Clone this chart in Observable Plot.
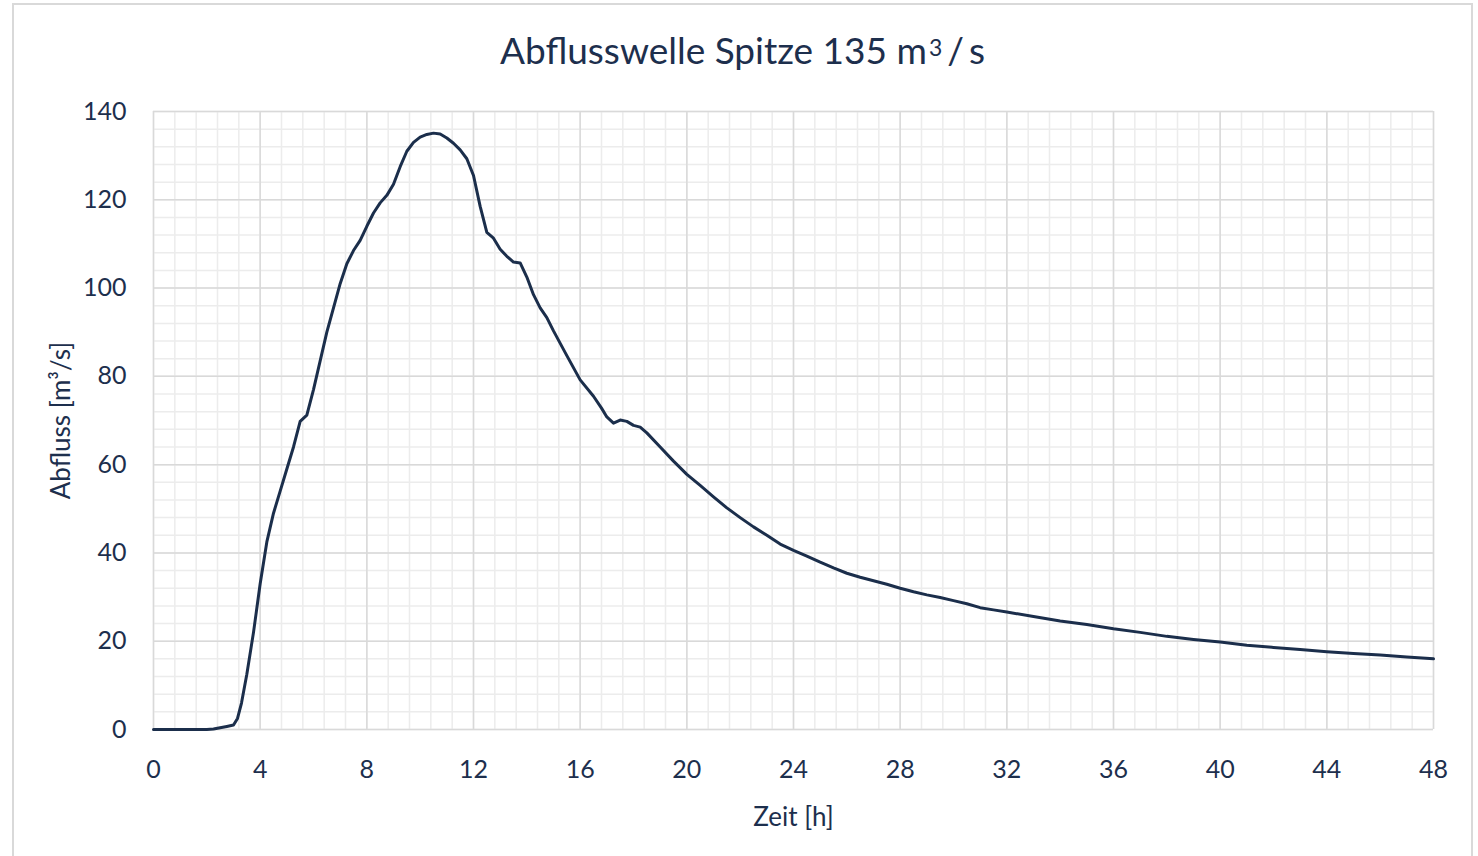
<!DOCTYPE html>
<html>
<head>
<meta charset="utf-8">
<script src="https://cdn.jsdelivr.net/npm/d3@7"></script>
<script src="https://cdn.jsdelivr.net/npm/@observablehq/plot@0.6"></script>
<style>
  body { margin: 0; background: #fff; font-family: Lato, "Open Sans", sans-serif; }
  #wrap { position: relative; width: 1478px; height: 856px; overflow: hidden; background: #fff; }
  #frame { position: absolute; left: 12px; top: 3px; width: 1461px; height: 900px; border: 2px solid #d9d9d9; box-sizing: border-box; }
  #title { position: absolute; left: 12px; width: 1461px; top: 27px; text-align: center; font-size: 37px; line-height: 46px; color: #1d2f4d; }
  #title sup { font-size: 0.62em; position: relative; top: -0.12em; vertical-align: top; margin: 0 2px 0 2px; }
  #title .sl { margin: 0 5px 0 3px; }
  #chart { position: absolute; left: 0; top: 90px; }
</style>
</head>
<body>
<div id="wrap">
  <div id="frame"></div>
  <div id="title">Abflusswelle Spitze 135 m<sup>3</sup><span class="sl">/</span>s</div>
  <div id="chart"></div>
</div>
<script>
// Time in hours
const timeH = [0, 0.5, 1, 1.5, 2, 2.25, 2.5, 2.75, 3.0, 3.15, 3.3, 3.5, 3.75, 4.0, 4.25, 4.5, 4.75, 5.0, 5.25, 5.5, 5.75,
  6.0, 6.25, 6.5, 6.75, 7.0, 7.25, 7.5, 7.75, 8.0, 8.25, 8.5, 8.75, 9.0, 9.25, 9.5, 9.75, 10.0, 10.25, 10.5, 10.75,
  11.0, 11.25, 11.5, 11.75, 12.0, 12.25, 12.5, 12.75, 13.0, 13.25, 13.5, 13.75, 14.0, 14.25, 14.5, 14.75, 15.0, 15.5,
  16.0, 16.5, 16.8, 17.0, 17.25, 17.5, 17.75, 18.0, 18.25, 18.5, 19.0, 19.5, 20.0, 20.5, 21.0, 21.5, 22.0, 22.5, 23.0,
  23.5, 24.0, 24.5, 25.0, 25.5, 26.0, 26.5, 27.0, 27.5, 28.0, 28.5, 29.0, 29.5, 30.0, 30.5, 31.0, 31.5, 32.0, 33.0,
  34.0, 35.0, 36.0, 37.0, 38.0, 39.0, 40.0, 41.0, 42.0, 43.0, 44.0, 45.0, 46.0, 47.0, 48.0];
// Discharge in m³/s
const flow = [0, 0, 0, 0, 0, 0.1, 0.4, 0.7, 1.0, 2.5, 6, 12.5, 22, 33, 42.5, 49, 54, 59, 64, 69.8, 71.2,
  77, 83.5, 90, 95.5, 101, 105.5, 108.5, 110.8, 114, 117, 119.3, 121, 123.5, 127.5, 131, 133, 134.2, 134.8, 135.1, 134.9,
  134.0, 132.8, 131.3, 129.3, 125.5, 118.5, 112.6, 111.3, 108.8, 107.2, 105.9, 105.7, 102.5, 98.5, 95.5, 93.3, 90.3, 84.7,
  79.2, 75.5, 72.8, 70.8, 69.4, 70.1, 69.8, 68.9, 68.5, 67.2, 64, 60.8, 57.8, 55.3, 52.7, 50.2, 48.0, 45.9, 44.0,
  42.0, 40.6, 39.3, 37.9, 36.6, 35.4, 34.5, 33.7, 32.9, 32.0, 31.2, 30.5, 29.9, 29.2, 28.5, 27.6, 27.1, 26.6, 25.6,
  24.6, 23.8, 22.8, 22.0, 21.1, 20.4, 19.8, 19.1, 18.6, 18.1, 17.6, 17.2, 16.9, 16.4, 16.0];

const xTicks = [0, 4, 8, 12, 16, 20, 24, 28, 32, 36, 40, 44, 48];
const yTicks = [0, 20, 40, 60, 80, 100, 120, 140];
const xMinor = d3.range(0, 61).map(i => +(i * 0.8).toFixed(2));
const yMinor = d3.range(0, 36).map(i => i * 4);

const data = timeH.map((t, i) => ({t, q: flow[i]}));
const ink = "#1d2f4d";

const chart = Plot.plot({
  width: 1478,
  height: 766,
  marginLeft: 153,
  marginRight: 45,
  marginTop: 21,
  marginBottom: 127,
  style: {fontFamily: "Lato, 'Open Sans', sans-serif", fontSize: "25px", color: ink, background: "transparent", overflow: "visible"},
  x: {domain: [0, 48]},
  y: {domain: [0, 140]},
  marks: [
    Plot.ruleX(xMinor, {stroke: "#ececec", strokeWidth: 1.5}),
    Plot.ruleY(yMinor, {stroke: "#ececec", strokeWidth: 1.5}),
    Plot.ruleX(xTicks, {stroke: "#d9d9d9", strokeWidth: 1.5}),
    Plot.ruleY(yTicks, {stroke: "#d9d9d9", strokeWidth: 1.5}),
    Plot.axisX({ticks: xTicks, tickSize: 0, tickPadding: 31, tickFormat: d => String(d), label: null, fontSize: 25, fill: ink}),
    Plot.axisX({ticks: [], tickSize: 0, label: "Zeit [h]", labelAnchor: "center", labelArrow: "none", labelOffset: 96, fontSize: 26, fill: ink}),
    Plot.axisY({ticks: yTicks, tickSize: 0, tickPadding: 27, tickFormat: d => String(d), label: null, fontSize: 25, fill: ink}),
    Plot.axisY({ticks: [], tickSize: 0, label: "Abfluss [m³/s]", labelAnchor: "center", labelArrow: "none", labelOffset: 102, fontSize: 26, fill: ink}),
    Plot.line(data, {x: "t", y: "q", stroke: "#1b2e4b", strokeWidth: 3, strokeLinejoin: "round"})
  ]
});
document.getElementById("chart").appendChild(chart);
</script>
</body>
</html>
